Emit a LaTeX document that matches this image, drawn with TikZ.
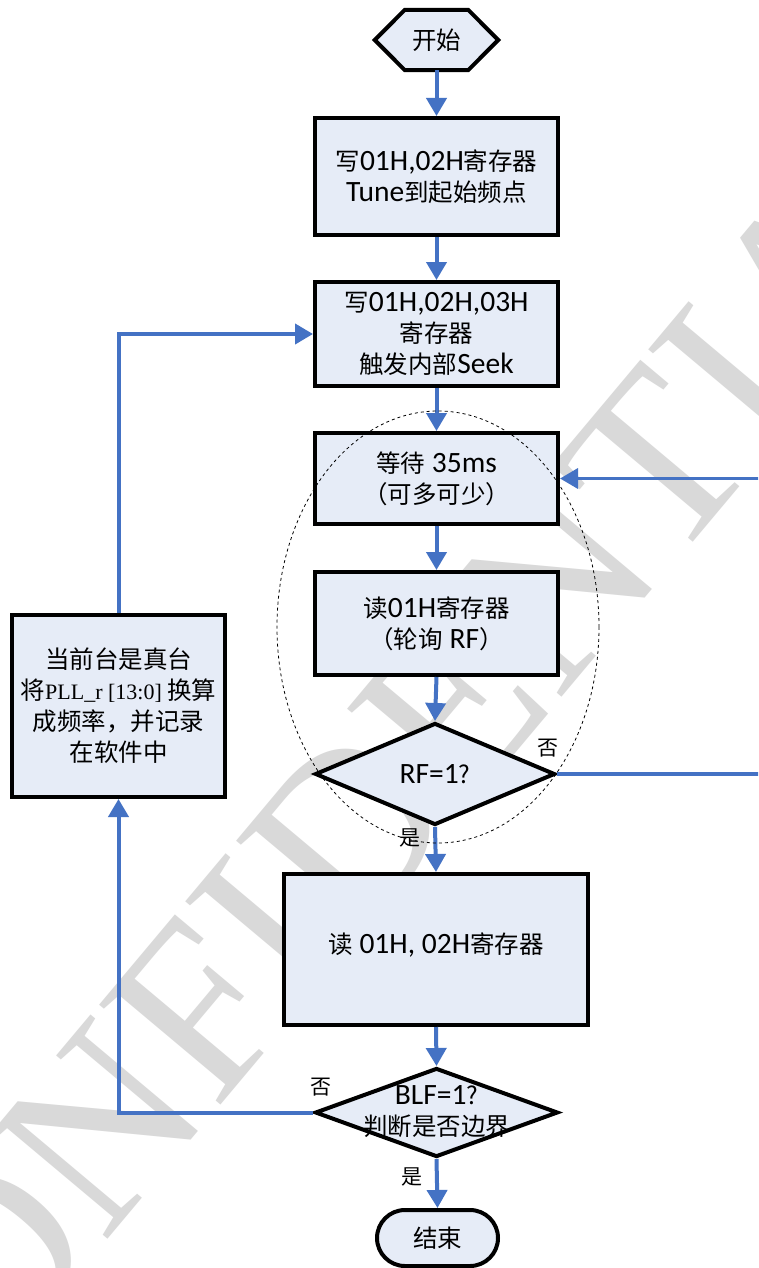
\documentclass[tikz,border=0pt]{standalone}
\usepackage{fontspec}
\setmainfont{Carlito}
\newfontfamily\cjk{Noto Sans CJK SC}
\newfontfamily\tms{Liberation Serif}
\usetikzlibrary{arrows.meta,shapes.geometric,shapes.misc}
\definecolor{boxfill}{HTML}{E6ECF7}
\definecolor{arrowblue}{HTML}{4472C4}
\newcommand\zh[1]{{\cjk\fontsize{24.5}{31}\selectfont #1}}
\newcommand\zhs[1]{{\cjk\fontsize{21}{24}\selectfont #1}}
\begin{document}
\begin{tikzpicture}[x=1pt,y=-1pt,
  box/.style={draw=black, line width=4pt, fill=boxfill, align=center, inner sep=0pt,
    font={\fontsize{29.5}{31}\selectfont}},
  arr/.style={draw=arrowblue, line width=4pt, -{Triangle[length=18pt,width=20pt]}},
  arrthin/.style={draw=arrowblue, line width=3.5pt, -{Triangle[length=18pt,width=20pt]}},
  lbl/.style={inner sep=0pt}]
\useasboundingbox (0,0) rectangle (758,1268);
\clip (0,0) rectangle (758,1268);
\fill[white] (0,0) rectangle (758,1268);
% watermark
\node[rotate=50, text=gray!30, inner sep=0pt, font={\tms\fontsize{240}{240}\selectfont}] (wm) at (395,775) {CONFIDENTIAL};
% start
\node[minimum width=123pt, minimum height=60pt, inner sep=0pt] (start) at (436.5,40) {};
\draw[line width=4pt, fill=boxfill, line join=miter] (start.west) -- ([xshift=30pt]start.north west) -- ([xshift=-30pt]start.north east) -- (start.east) -- ([xshift=-30pt]start.south east) -- ([xshift=30pt]start.south west) -- cycle;
\node[lbl] (starttext) at (start.center) {\zh{开始}};
% boxes
\node[box, minimum width=243pt, minimum height=117pt] (b1) at (436.5,176.5) {\zh{写}01H,02H\zh{寄存器}\\Tune\zh{到起始频点}};
\node[box, minimum width=243pt, minimum height=104pt] (b2) at (436.5,334) {\zh{写}01H,02H,03H\\\zh{寄存器}\\\zh{触发内部}Seek};
\node[box, minimum width=243pt, minimum height=91pt] (b3) at (436.5,478.5) {\zh{等待} 35ms\\\zh{（可多可少）}};
\node[box, minimum width=243pt, minimum height=103pt] (b4) at (436.5,623.5) {\zh{读}01H\zh{寄存器}\\\zh{（轮询} RF\zh{）}};
\node[box, diamond, minimum width=240pt, minimum height=102pt] (rf) at (435,774) {RF=1\zh{?}};
\node[box, minimum width=304pt, minimum height=151pt] (b5) at (436,949.5) {\raisebox{13pt}{\zh{读} 01H, 02H\zh{寄存器}}};
\node[box, diamond, minimum width=243pt, minimum height=89pt] (blf) at (436.5,1112.5) {};
\node[lbl, align=center, font={\fontsize{29.5}{31}\selectfont}] (blftext) at (436.5,1112) {BLF=1\zh{?}\\\zh{判断是否边界}};
\node[box, rounded rectangle, minimum width=121pt, minimum height=56pt] (end) at (437.5,1238) {\zh{结束}};
\node[box, minimum width=213pt, minimum height=182pt, font={\tms\fontsize{22}{31}\selectfont}] (lbox) at (118.5,706) {\zh{当前台是真台}\\\zh{将}PLL\_r [13:0] \zh{换算}\\\zh{成频率，并记录}\\\zh{在软件中}};
% labels
\node[lbl] (rfno) at (548,748) {\zhs{否}};
\node[lbl] (rfyes) at (410,838) {\zhs{是}};
\node[lbl] (blfno) at (321,1087) {\zhs{否}};
\node[lbl] (blfyes) at (412,1177) {\zhs{是}};
% connectors
\draw[arr] (start.south) -- (b1.north);
\draw[arr] (b1.south) -- (b2.north);
\draw[arr] (b2.south) -- (b3.north);
\draw[arr] (b3.south) -- (b4.north);
\draw[arr] (b4.south) -- (rf.north);
\draw[arr] (rf.south) -- (b5.north);
\draw[arr] (b5.south) -- (blf.north);
\draw[arr] (blf.south) -- (end.north);
\draw[arr] (blf.west) -| (lbox.south);
\draw[arr] (lbox.north) |- (b2.west);
\coordinate (rr) at (800,0);
\draw[arrthin] (rf.east) -- (rf.east -| rr) -- (b3.east -| rr) -- (b3.east);
% dashed ellipse
\node[draw=black, dashed, line width=0.8pt, ellipse, minimum width=322pt, minimum height=432pt, inner sep=0pt] (loop) at (438,627) {};
\end{tikzpicture}
\end{document}
